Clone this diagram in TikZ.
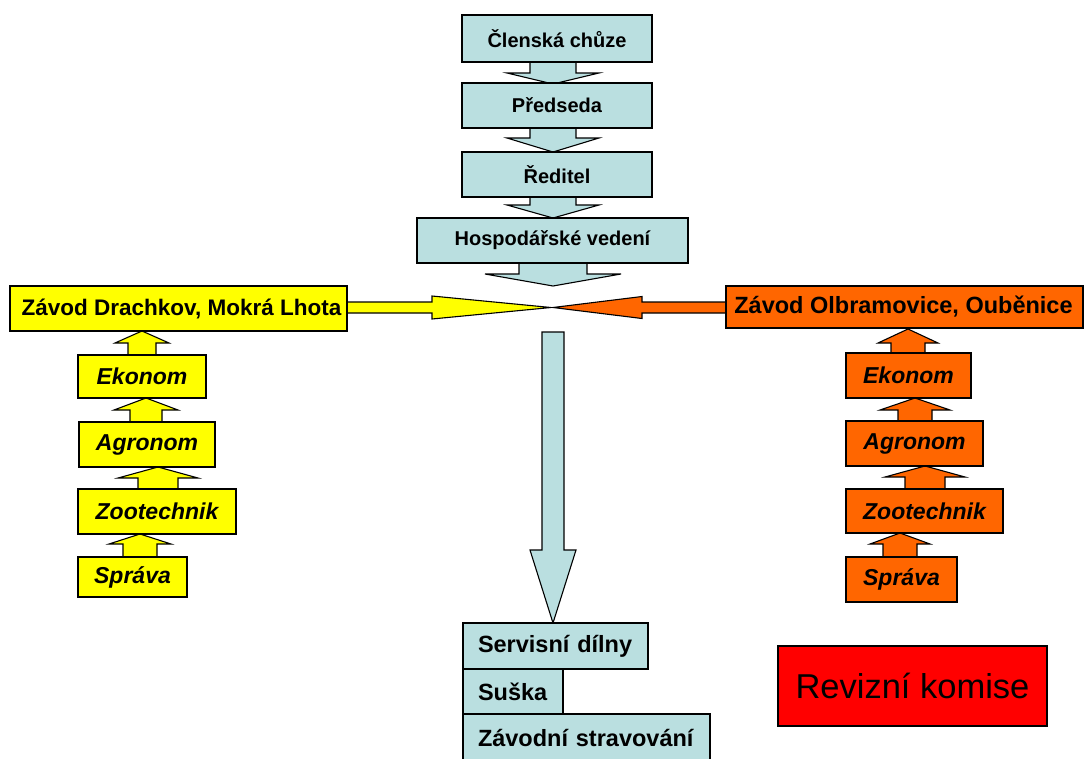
\documentclass[tikz,border=0pt]{standalone}
\usepackage{fontspec}
\setmainfont{Liberation Sans}
\definecolor{lblue}{HTML}{BADFE0}
\definecolor{yel}{HTML}{FFFF00}
\definecolor{ora}{HTML}{FF6600}
\definecolor{rred}{HTML}{FF0000}
\tikzset{
  bx/.style={draw=black,line width=1.1pt,inner sep=0pt,font=\bfseries},
  blue/.style={bx,fill=lblue},
  yb/.style={bx,fill=yel},
  ob/.style={bx,fill=ora},
  topf/.style={font=\bfseries\fontsize{20}{22}\selectfont},
  botf/.style={font=\bfseries\fontsize{23.5}{26}\selectfont,align=left},
  sub/.style={font=\bfseries\itshape\fontsize{23}{26}\selectfont},
  barrow/.style={draw=black,line width=1.1pt,line join=miter},
}
% box: name, x1,y1,x2,y2, style, text
\newcommand{\bx}[7]{%
  \pgfmathsetmacro{\cx}{(#2+#4)/2}\pgfmathsetmacro{\cy}{(#3+#5)/2}%
  \pgfmathsetmacro{\bw}{#4-#2}\pgfmathsetmacro{\bh}{#5-#3}%
  \node[#6,minimum width=\bw pt,minimum height=\bh pt] (#1) at (\cx,\cy) {#7};}
% left-aligned box: text starts 15pt from the left edge
\newcommand{\lbx}[7]{%
  \pgfmathsetmacro{\cx}{(#2+#4)/2}\pgfmathsetmacro{\cy}{(#3+#5)/2}%
  \pgfmathsetmacro{\bw}{#4-#2}\pgfmathsetmacro{\bh}{#5-#3}\pgfmathsetmacro{\tw}{#4-#2-30}%
  \node[#6,minimum width=\bw pt,minimum height=\bh pt,text width=\tw pt] (#1) at (\cx,\cy) {#7};}
% vertical block arrow: x, y0, yh, yt, shaft half, head half, fill
\newcommand{\varr}[7]{%
  \draw[barrow,fill=#7] (#1-#5,#2) -- (#1-#5,#3) -- (#1-#6,#3) -- (#1,#4) -- (#1+#6,#3) -- (#1+#5,#3) -- (#1+#5,#2) -- cycle;}
% horizontal block arrow: y, x0, xh, xt, shaft half, head half, fill
\newcommand{\harr}[7]{%
  \draw[barrow,fill=#7] (#2,#1-#5) -- (#3,#1-#5) -- (#3,#1-#6) -- (#4,#1) -- (#3,#1+#6) -- (#3,#1+#5) -- (#2,#1+#5) -- cycle;}
\begin{document}
\begin{tikzpicture}[x=1pt,y=-1pt]
\useasboundingbox (0,0) rectangle (1087,758);
\clip (0,0) rectangle (1087,758);
% arrows (drawn first)
\varr{553}{62}{73}{84}{23}{46}{lblue}
\varr{553}{128}{138}{152}{23}{46}{lblue}
\varr{553}{197}{205}{218}{23}{46}{lblue}
\varr{553}{263}{274}{286}{34}{68}{lblue}
\harr{307.5}{347}{432}{551}{5.5}{11.5}{yel}
\harr{307.5}{726}{642}{553}{5.5}{11}{ora}
\varr{553}{332}{550}{623}{11}{23}{lblue}
% left up arrows
\varr{142}{355}{343}{331}{14}{27}{yel}
\varr{146}{422}{410}{398}{16}{32}{yel}
\varr{158}{489}{478}{467}{20}{40}{yel}
\varr{140}{557}{544}{534}{17}{31}{yel}
% right up arrows
\varr{908}{353}{343}{329}{17}{30}{ora}
\varr{915}{421}{410}{398}{17}{35}{ora}
\varr{925}{489}{477}{466}{20}{40}{ora}
\varr{900}{557}{544}{533}{17}{30}{ora}
% top chain
\bx{clen}{462}{15}{652}{62}{blue,topf}{Členská chůze}
\bx{pred}{462}{83}{652}{128}{blue,topf}{Předseda}
\bx{red}{462}{152}{652}{197}{blue,topf}{Ředitel}
\bx{hosp}{417}{218}{688}{263}{blue,topf}{Hospodářské vedení}
% plants
\bx{zl}{10}{286}{347}{331}{yb,font=\bfseries\fontsize{22.5}{24}\selectfont}{\hspace*{6pt}Závod Drachkov, Mokrá Lhota}
\bx{zr}{726}{286}{1083}{328}{ob,font=\bfseries\fontsize{23.5}{26}\selectfont}{Závod Olbramovice, Ouběnice\hspace*{2pt}}
% left sub
\bx{le}{78}{355}{206}{398}{yb,sub}{Ekonom}
\bx{la}{79}{422}{215}{467}{yb,sub}{Agronom}
\bx{lz}{78}{489}{236}{534}{yb,sub}{Zootechnik}
\bx{ls}{78}{557}{187}{597}{yb,sub}{Správa}
% right sub
\bx{re}{846}{353}{971}{398}{ob,sub}{Ekonom}
\bx{ra}{846}{421}{983}{466}{ob,sub}{Agronom}
\bx{rz}{846}{489}{1003}{533}{ob,sub}{Zootechnik}
\bx{rs}{846}{557}{957}{602}{ob,sub}{Správa}
% bottom services
\lbx{serv}{463}{623}{648}{669}{blue,botf}{Servisní dílny}
\lbx{susk}{463}{669}{563}{714}{blue,botf}{Suška}
\lbx{zavs}{463}{714}{710}{762}{blue,botf}{Závodní stravování}
% revision
\bx{rev}{778}{646}{1047}{726}{bx,fill=rred,font=\fontsize{34.5}{38}\selectfont}{Revizní komise}
\end{tikzpicture}
\end{document}
